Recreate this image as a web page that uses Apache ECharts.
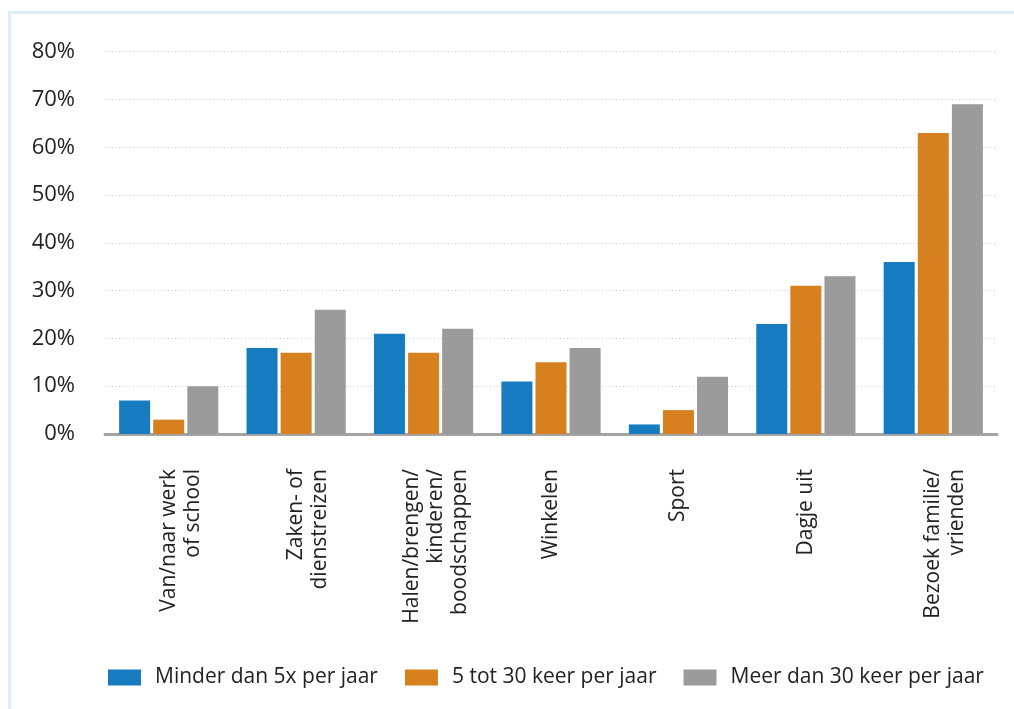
<!DOCTYPE html>
<html>
<head>
<meta charset="utf-8">
<script src="https://cdn.jsdelivr.net/npm/echarts@6/dist/echarts.min.js"></script>
<style>
html,body{margin:0;padding:0;background:#fff;}
#chart{width:1014px;height:709px;}
</style>
</head>
<body>
<div id="chart"></div>
<script>
var categories = ['Van/naar werk\nof school', 'Zaken- of\ndienstreizen', 'Halen/brengen/\nkinderen/\nboodschappen', 'Winkelen', 'Sport', 'Dagje uit', 'Bezoek familie/\nvrienden'];
var seriesNames = ['Minder dan 5x per jaar', '5 tot 30 keer per jaar', 'Meer dan 30 keer per jaar'];
var minder5 = [7, 18, 21, 11, 2, 23, 36];
var tot30 = [3, 17, 17, 15, 5, 31, 63];
var meer30 = [10, 26, 22, 18, 12, 33, 69];
var yTicks = [0, 10, 20, 30, 40, 50, 60, 70, 80];

var colors = ['#177bc0', '#d6801f', '#9b9b9b'];
var FONT = '"Open Sans", sans-serif';

var chart = echarts.init(document.getElementById('chart'));
chart.setOption({
  animation: false,
  color: colors,
  graphic: [{
    type: 'rect',
    shape: {x: 9.5, y: 12.5, width: 3000, height: 3000},
    style: {fill: 'none', stroke: '#dceef8', lineWidth: 3},
    silent: true, z: -10
  }],
  grid: {left: 105, right: 17, top: 51.7, bottom: 275, containLabel: false},
  legend: {
    left: 103, top: 662,
    itemWidth: 33, itemHeight: 16,
    itemGap: 27,
    icon: 'rect',
    textStyle: {fontFamily: FONT, fontSize: 21, color: '#222', padding: [0,0,0,9]},
    data: seriesNames
  },
  xAxis: {
    type: 'category',
    data: categories,
    axisLine: {show: true, lineStyle: {color: '#a3a3a3', width: 3}},
    axisTick: {show: false},
    axisLabel: {
      interval: 0, rotate: 90, margin: 35,
      fontFamily: FONT, fontSize: 21, color: '#222', lineHeight: 24,
      formatter: function (v) { return v.indexOf('\n') >= 0 ? '\n' + v : v; }
    }
  },
  yAxis: {
    type: 'value', min: 0, max: 80, interval: 10,
    axisLine: {show: false}, axisTick: {show: false},
    axisLabel: {
      margin: 30, fontFamily: FONT, fontSize: 22, color: '#222',
      padding: [0,0,13,0],
      formatter: function (v) { return yTicks.indexOf(v) >= 0 ? v + '%' : ''; }
    },
    splitLine: {show: true, lineStyle: {color: '#c4c4c4', width: 1, type: [1, 2.5]}}
  },
  series: [
    {name: seriesNames[0], type: 'bar', data: minder5, barWidth: 31, barGap: '10%'},
    {name: seriesNames[1], type: 'bar', data: tot30, barWidth: 31, barGap: '10%'},
    {name: seriesNames[2], type: 'bar', data: meer30, barWidth: 31, barGap: '10%'}
  ]
});
</script>
</body>
</html>
